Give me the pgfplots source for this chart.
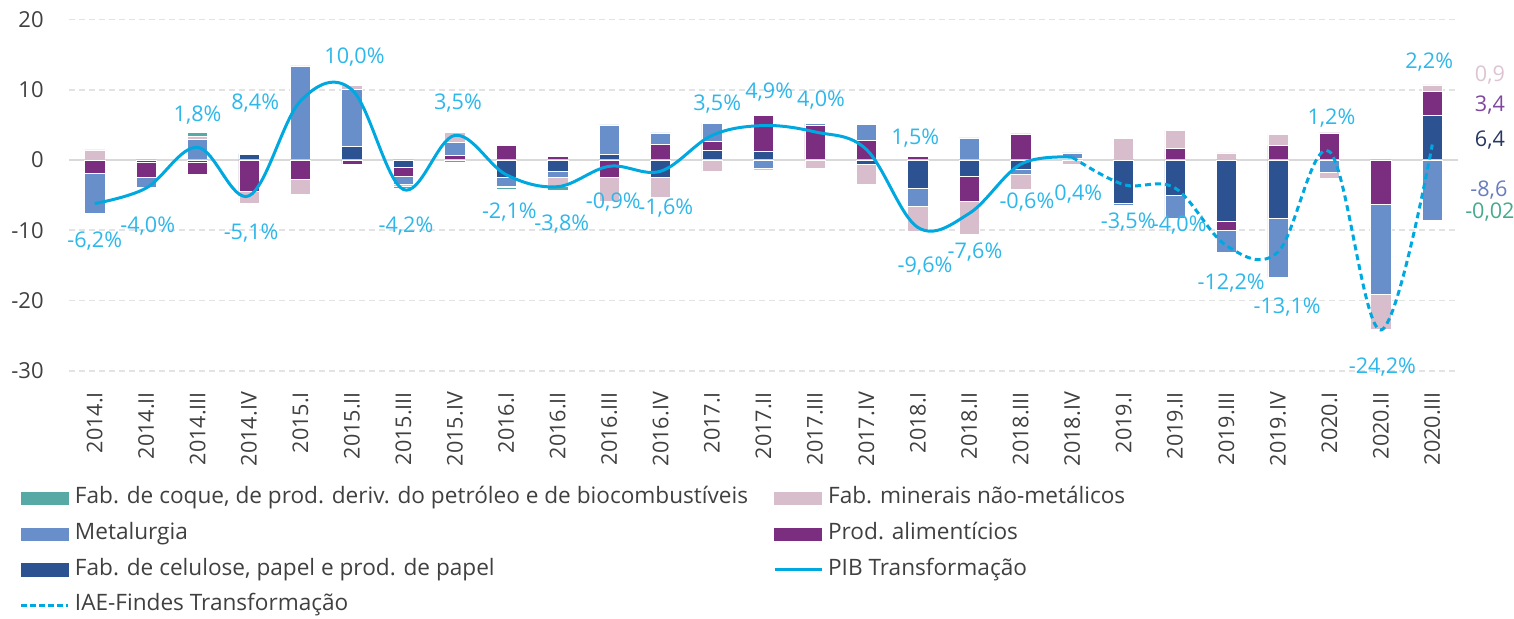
\documentclass[border=0pt]{standalone}
\usepackage{fontspec}
\setmainfont{Open Sans}
\usepackage{pgfplots}
\pgfplotsset{compat=1.18}
\usepackage{pgfplotstable}

\definecolor{coque}{RGB}{86,169,165}
\definecolor{metal}{RGB}{105,143,202}
\definecolor{celul}{RGB}{44,82,146}
\definecolor{alim}{RGB}{123,45,128}
\definecolor{miner}{RGB}{216,190,205}
\definecolor{pib}{RGB}{0,168,224}
\definecolor{lbl}{RGB}{45,183,234}
\definecolor{txt}{RGB}{64,64,64}

% contributions by sector (p.p.)
\pgfplotstableread{
x  cel   alim   metal  min    coque
0  0     -1.9   -5.65  1.4    0.05
1  -0.3  -2.15  -1.4   -0.15  0.1
2  -0.4  -1.6   2.9    0.5    0.5
3  0.8   -4.5   0      -1.6   0.15
4  0     -2.75  13.3   -2.1   0.1
5  1.95  -0.6   8.05   0.65   0
6  -1.1  -1.2   -1.2   -0.3   -0.3
7  0     0.6    1.9    1.4    -0.4
8  -2.5  2.1    -1.2   -0.15  -0.3
9  -1.6  0.5    -0.9   -1.3   -0.45
10 0.8   -2.5   4.2    -3.4   -0.05
11 -2.5  2.2    1.65   -2.8   -0.15
12 1.35  1.35   2.5    -1.55  -0.1
13 1.3   5.0    -1.15  -0.25  0
14 0     4.95   0.3    -1.25  0
15 -0.6  2.75   2.3    -2.9   0.05
16 -4.0  0.55   -2.65  -3.5   0
17 -2.35 -3.6   3.15   -4.7   0
18 -1.3  3.7    -0.75  -2.15  0
19 0     0.25   0.75   -0.55  0
20 -6.1  0      -0.4   3.05   0
21 -5.0  1.6    -3.25  2.65   0
22 -8.8  -1.2   -3.1   1.0    0
23 -8.3  2.05   -8.45  1.55   0
24 0     3.85   -1.8   -0.75  0
25 0     -6.35  -12.8  -4.9   -0.15
26 6.4   3.4    -8.6   0.9    -0.02
}\contrib

\pgfplotstableread{
x  pib
0  -6.2
1  -4.0
2  1.8
3  -5.1
4  8.4
5  10.0
6  -4.2
7  3.5
8  -2.1
9  -3.8
10 -0.9
11 -1.6
12 3.5
13 4.9
14 4.0
15 1.5
16 -9.6
17 -7.6
18 -0.6
19 0.4
}\pibdata

\pgfplotstableread{
x  iae
19 0.4
20 -3.5
21 -4.0
22 -12.2
23 -13.1
24 1.2
25 -24.2
26 2.2
}\iaedata

\pgfplotsset{
  base/.style={
    scale only axis, width=694.5pt, height=175.6pt,
    at={(34.5pt,123.65pt)}, anchor=south west,
    xmin=-0.5, xmax=26.5, ymin=-30, ymax=20,
    clip=false,
  },
  bars/.style={ybar stacked, bar width=10.15pt},
  pos/.style={draw=white, line width=0.3pt, fill=#1},
}

\newcommand{\boxentry}[2]{\addlegendimage{legend image code/.code={\fill[#1] (0pt,-3.1pt) rectangle (23.5pt,3.1pt);}}\addlegendentry{#2}}

\begin{document}
\begin{tikzpicture}
\useasboundingbox (0,0) rectangle (757pt,309pt);

% axis 1: grid, tick labels, positive parts
\begin{axis}[base, bars,
  axis line style={draw=none}, tick style={draw=none},
  ytick={-30,-20,-10,0,10,20},
  yticklabels={-30,-20,-10,0,10,20},
  ymajorgrids, major grid style={gray!22, line width=0.8pt, dash pattern=on 3pt off 2pt},
  yticklabel style={font=\fontsize{11}{13}\selectfont, text=txt, inner sep=0pt, anchor=east},
  yticklabel shift=12.5pt,
  xtick={0,...,26},
  xticklabels={2014.I,2014.II,2014.III,2014.IV,2015.I,2015.II,2015.III,2015.IV,
    2016.I,2016.II,2016.III,2016.IV,2017.I,2017.II,2017.III,2017.IV,
    2018.I,2018.II,2018.III,2018.IV,2019.I,2019.II,2019.III,2019.IV,
    2020.I,2020.II,2020.III},
  xticklabel style={font=\fontsize{10.8}{12}\selectfont, text=txt, rotate=90, anchor=east, inner sep=0pt},
  xticklabel shift=10.5pt,
]
\addplot[pos=celul] table[x=x, y expr={max(\thisrow{cel},0)}]{\contrib};
\addplot[pos=alim]  table[x=x, y expr={max(\thisrow{alim},0)}]{\contrib};
\addplot[pos=metal] table[x=x, y expr={max(\thisrow{metal},0)}]{\contrib};
\addplot[pos=miner] table[x=x, y expr={max(\thisrow{min},0)}]{\contrib};
\addplot[pos=coque] table[x=x, y expr={max(\thisrow{coque},0)}]{\contrib};
\end{axis}

% axis 2: negative parts
\begin{axis}[base, bars, hide axis]
\addplot[pos=celul] table[x=x, y expr={min(\thisrow{cel},0)}]{\contrib};
\addplot[pos=alim]  table[x=x, y expr={min(\thisrow{alim},0)}]{\contrib};
\addplot[pos=metal] table[x=x, y expr={min(\thisrow{metal},0)}]{\contrib};
\addplot[pos=miner] table[x=x, y expr={min(\thisrow{min},0)}]{\contrib};
\addplot[pos=coque] table[x=x, y expr={min(\thisrow{coque},0)}]{\contrib};
\draw[gray!30, line width=1.1pt] (axis cs:-0.5,0) -- (axis cs:26.5,0);
\end{axis}

% axis 3: lines, labels, legend
\begin{axis}[base, hide axis,
  legend columns=2,
  legend cell align=left,
  legend style={at={(axis description cs:-0.0353,-0.3357)}, anchor=north west,
    draw=none, fill=none, inner sep=0pt, outer sep=0pt,
    font=\fontsize{11.3}{13}\selectfont, text=txt,
    nodes={inner sep=0pt, text height=7.6pt, text depth=2.2pt},
    row sep=8.05pt,
    /tikz/every odd column/.append style={column sep=2.5pt},
    /tikz/every even column/.append style={column sep=12.5pt}},
]
\boxentry{coque}{Fab. de coque, de prod. deriv. do petróleo e de biocombustíveis}
\boxentry{miner}{Fab. minerais não-metálicos}
\boxentry{metal}{Metalurgia}
\boxentry{alim}{Prod. alimentícios}
\boxentry{celul}{Fab. de celulose, papel e prod. de papel}
\addlegendimage{legend image code/.code={\draw[pib, line width=1.5pt] (0pt,0pt) -- (23.5pt,0pt);}}
\addlegendentry{PIB Transformação}
\addlegendimage{legend image code/.code={\draw[pib, line width=1.5pt, dash pattern=on 3pt off 1.5pt] (0pt,0pt) -- (23.5pt,0pt);}}
\addlegendentry{IAE-Findes Transformação}

\addplot[pib, line width=1.5pt, smooth, tension=0.6, forget plot] table[x=x, y=pib]{\pibdata};
\addplot[pib, line width=1.5pt, smooth, tension=0.6, dash pattern=on 3pt off 2pt, forget plot] table[x=x, y=iae]{\iaedata};

\begin{scope}[every node/.style={text=lbl, font=\fontsize{10.8}{12}\selectfont, inner sep=0pt}]
\node at (axis cs:0,-11.5) {-6,2\%};
\node at (axis cs:1.03,-9.35) {-4,0\%};
\node at (axis cs:2.0,6.45) {1,8\%};
\node at (axis cs:3.12,8.15) {8,4\%};
\node at (axis cs:3.04,-10.35) {-5,1\%};
\node at (axis cs:5.05,14.65) {10,0\%};
\node at (axis cs:6.05,-9.35) {-4,2\%};
\node at (axis cs:7.06,8.15) {3,5\%};
\node at (axis cs:8.06,-7.45) {-2,1\%};
\node at (axis cs:9.08,-9.1) {-3,8\%};
\node at (axis cs:10.08,-6.0) {-0,9\%};
\node at (axis cs:11.1,-6.85) {-1,6\%};
\node at (axis cs:12.1,8.0) {3,5\%};
\node at (axis cs:13.11,9.6) {4,9\%};
\node at (axis cs:14.12,8.5) {4,0\%};
\node at (axis cs:15.95,3.05) {1,5\%};
\node at (axis cs:16.14,-15.05) {-9,6\%};
\node at (axis cs:17.11,-13.05) {-7,6\%};
\node at (axis cs:18.12,-6.0) {-0,6\%};
\node at (axis cs:19.12,-4.8) {0,4\%};
\node at (axis cs:20.09,-8.85) {-3,5\%};
\node at (axis cs:21.08,-9.2) {-4,0\%};
\node at (axis cs:22.09,-17.5) {-12,2\%};
\node at (axis cs:23.18,-21.0) {-13,1\%};
\node at (axis cs:24.04,5.9) {1,2\%};
\node at (axis cs:25.03,-29.5) {-24,2\%};
\node at (axis cs:25.94,14.0) {2,2\%};
\end{scope}
\begin{scope}[every node/.style={font=\fontsize{10.8}{12}\selectfont, inner sep=0pt}]
\node[text={rgb,255:red,220;green,196;blue,210}] at (axis cs:27.12,12.1) {0,9};
\node[text={rgb,255:red,128;green,70;blue,160}] at (axis cs:27.12,7.85) {3,4};
\node[text={rgb,255:red,40;green,55;blue,100}] at (axis cs:27.12,2.8) {6,4};
\node[text={rgb,255:red,105;green,125;blue,190}] at (axis cs:27.1,-4.3) {-8,6};
\node[text={rgb,255:red,70;green,170;blue,140}] at (axis cs:27.12,-7.45) {-0,02};
\end{scope}
\end{axis}
\end{tikzpicture}
\end{document}
